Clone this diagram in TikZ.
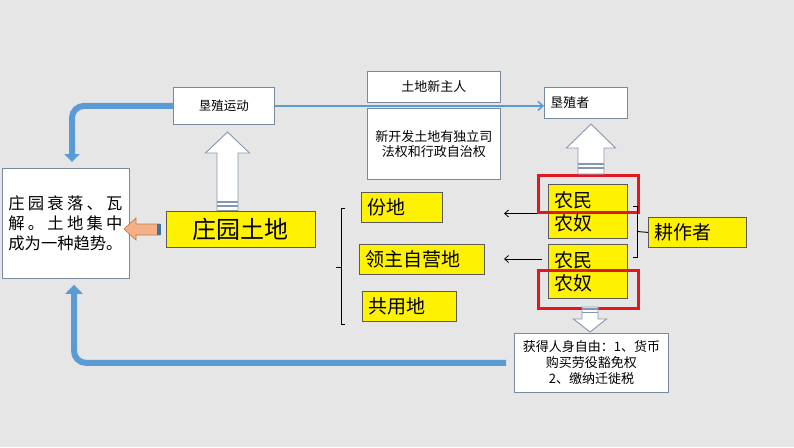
\documentclass[tikz,border=0pt]{standalone}
\usepackage{fontspec}
\setmainfont{Noto Sans CJK SC}
\usetikzlibrary{arrows.meta,calc}
\definecolor{bg}{RGB}{231,230,230}
\definecolor{boxline}{RGB}{120,138,160}
\definecolor{yline}{RGB}{90,90,90}
\definecolor{ptblue}{RGB}{91,155,213}
\definecolor{ptbluedark}{RGB}{65,113,156}
\definecolor{hollowline}{RGB}{132,151,176}
\definecolor{redbox}{RGB}{226,24,30}
\definecolor{orangefill}{RGB}{244,177,131}
\definecolor{orangeline}{RGB}{197,120,80}
\newcommand\justline[1]{\makebox[114pt][s]{#1}}
\newcommand\hollowarrow[6]{%
  \draw[hollow] (#1,#2) -- (#1+#6,#3) -- (#1+#5,#3) -- (#1+#5,#4) -- (#1-#5,#4) -- (#1-#5,#3) -- (#1-#6,#3) -- cycle;}
\newcommand\stripes[4]{%
  \draw[stripe] (#1-#2,#3) -- (#1+#2,#3);
  \draw[stripe] (#1-#2,#4) -- (#1+#2,#4);}
\begin{document}
\begin{tikzpicture}[x=1pt,y=-1pt,
  wbox/.style={draw=boxline, fill=white, line width=0.8pt, inner sep=0pt, anchor=north west, align=center, font=\fontsize{13}{15.5}\selectfont},
  ybox/.style={draw=yline, fill=yellow, line width=0.8pt, inner xsep=6pt, inner ysep=0pt, anchor=north west, align=left, font=\fontsize{19}{23}\selectfont},
  redframe/.style={draw=redbox, line width=2.5pt},
  hollow/.style={draw=hollowline, fill=white, line width=0.9pt},
  stripe/.style={draw=hollowline, line width=1.3pt},
  thickblue/.style={draw=ptblue, line width=6pt, rounded corners=12pt},
  thinblue/.style={draw=ptblue, line width=1.5pt, -{Straight Barb[length=5pt,width=9pt]}},
  blk/.style={draw=black, line width=0.8pt, -{Straight Barb[length=4pt,width=7pt]}},
  brace/.style={draw=black, line width=0.9pt}
]
\fill[bg] (0,0) rectangle (794,447);
\useasboundingbox (0,0) rectangle (794,447);

% white boxes
\node[wbox, minimum width=101pt, minimum height=37pt, font=\fontsize{12.5}{15}\selectfont] (kzyd) at (173,87) {垦殖运动};
\node[wbox, minimum width=133pt, minimum height=31pt] (tdxzr) at (367,71) {土地新主人};
\node[wbox, minimum width=133pt, minimum height=71pt] (xkf) at (367,108) {新开发土地有独立司\\法权和行政自治权};
\node[wbox, minimum width=83pt, minimum height=31pt, align=left, text width=71pt, inner xsep=6pt] (kzz) at (544,87) {垦殖者};
\node[wbox, minimum width=127pt, minimum height=110pt, align=left, text width=115pt, inner xsep=6pt, font=\fontsize{16.3}{20}\selectfont] (zy) at (2,168) {\justline{庄\hfil 园\hfil 衰\hfil 落\hfil 、\hfil 瓦}\\\justline{解\hfil 。\hfil 土\hfil 地\hfil 集\hfil 中}\\成为一种趋势。};
\node[wbox, minimum width=154pt, minimum height=59pt, font=\fontsize{13}{16}\selectfont] (hd) at (514,333) {获得人身自由：1、货币\\购买劳役豁免权\\2、缴纳迁徙税};

% yellow boxes
\node[ybox, minimum width=149pt, minimum height=36pt, align=center, text width=137pt, font=\fontsize{24}{28}\selectfont] (zytd) at (166,211) {庄园土地};
\node[ybox, minimum width=81pt, minimum height=30pt, text width=69pt] (fd) at (361,192) {份地};
\node[ybox, minimum width=125pt, minimum height=30pt, text width=113pt] (lzzyd) at (359,244) {领主自营地};
\node[ybox, minimum width=94pt, minimum height=30pt, text width=82pt] (gyd) at (362,291) {共用地};
\node[ybox, minimum width=79pt, minimum height=54pt, text width=67pt] (nm1) at (548,184) {农民\\农奴};
\node[ybox, minimum width=79pt, minimum height=54pt, text width=67pt] (nm2) at (548,244) {农民\\农奴};
\node[ybox, minimum width=98pt, minimum height=30pt, text width=86pt] (gzz) at (648,217) {耕作者};

% red frames
\node[redframe, anchor=north west, minimum width=100pt, minimum height=37pt, inner sep=0pt] (red1) at (537,174) {};
\node[redframe, anchor=north west, minimum width=100pt, minimum height=38pt, inner sep=0pt] (red2) at (537,269) {};

% hollow arrows
\hollowarrow{227.5}{132}{153}{210.5}{10.5}{22}
\stripes{227.5}{10.5}{202}{206}
\hollowarrow{591}{124}{148}{174}{13}{24.5}
\stripes{591}{13}{164}{168}
\hollowarrow{590}{332}{319}{307}{8}{16.5}
\stripes{590}{8}{309}{312.5}

% orange arrow
\draw[fill=orangefill, draw=orangeline, line width=0.7pt] (124,229) -- (136,218) -- (136,224) -- (160,224) -- (160,235) -- (136,235) -- (136,240) -- cycle;
\fill[ptbluedark] (157,224) rectangle (161,235);

% thick blue arrows
\coordinate (toptip) at ($(zy.north west)+(70,-6)$);
\draw[thickblue, -{Triangle[width=15pt,length=8pt]}] (kzyd.west) -| (toptip);
\coordinate (botstart) at ($(hd.west)+(-8,0)$);
\coordinate (bottip) at ($(zy.south west)+(72,6)$);
\draw[thickblue, -{Triangle[width=17pt,length=9pt]}] (botstart) -| (bottip);

% thin blue arrow
\draw[thinblue] (kzyd.east) -- (kzyd.east -| kzz.west);

% black arrows
\coordinate (a1e) at ($(red1.south west)+(-33,0)$);
\draw[blk] (red1.south west) -- (a1e);
\coordinate (a2s) at ($(nm2.north west)+(-6,15)$);
\coordinate (a2e) at ($(nm2.north west)+(-44,15)$);
\draw[blk] (a2s) -- (a2e);

% left brace
\draw[brace] (345,208) -- (341,208) -- (341,324) -- (345,324);
\draw[brace] (341,267) -- (336,267);

% right brace
\draw[brace] (633,206) -- (637,206) -- (637,257) -- (633,257);
\draw[brace] (637,231.5) -- (gzz.west);
\end{tikzpicture}
\end{document}
